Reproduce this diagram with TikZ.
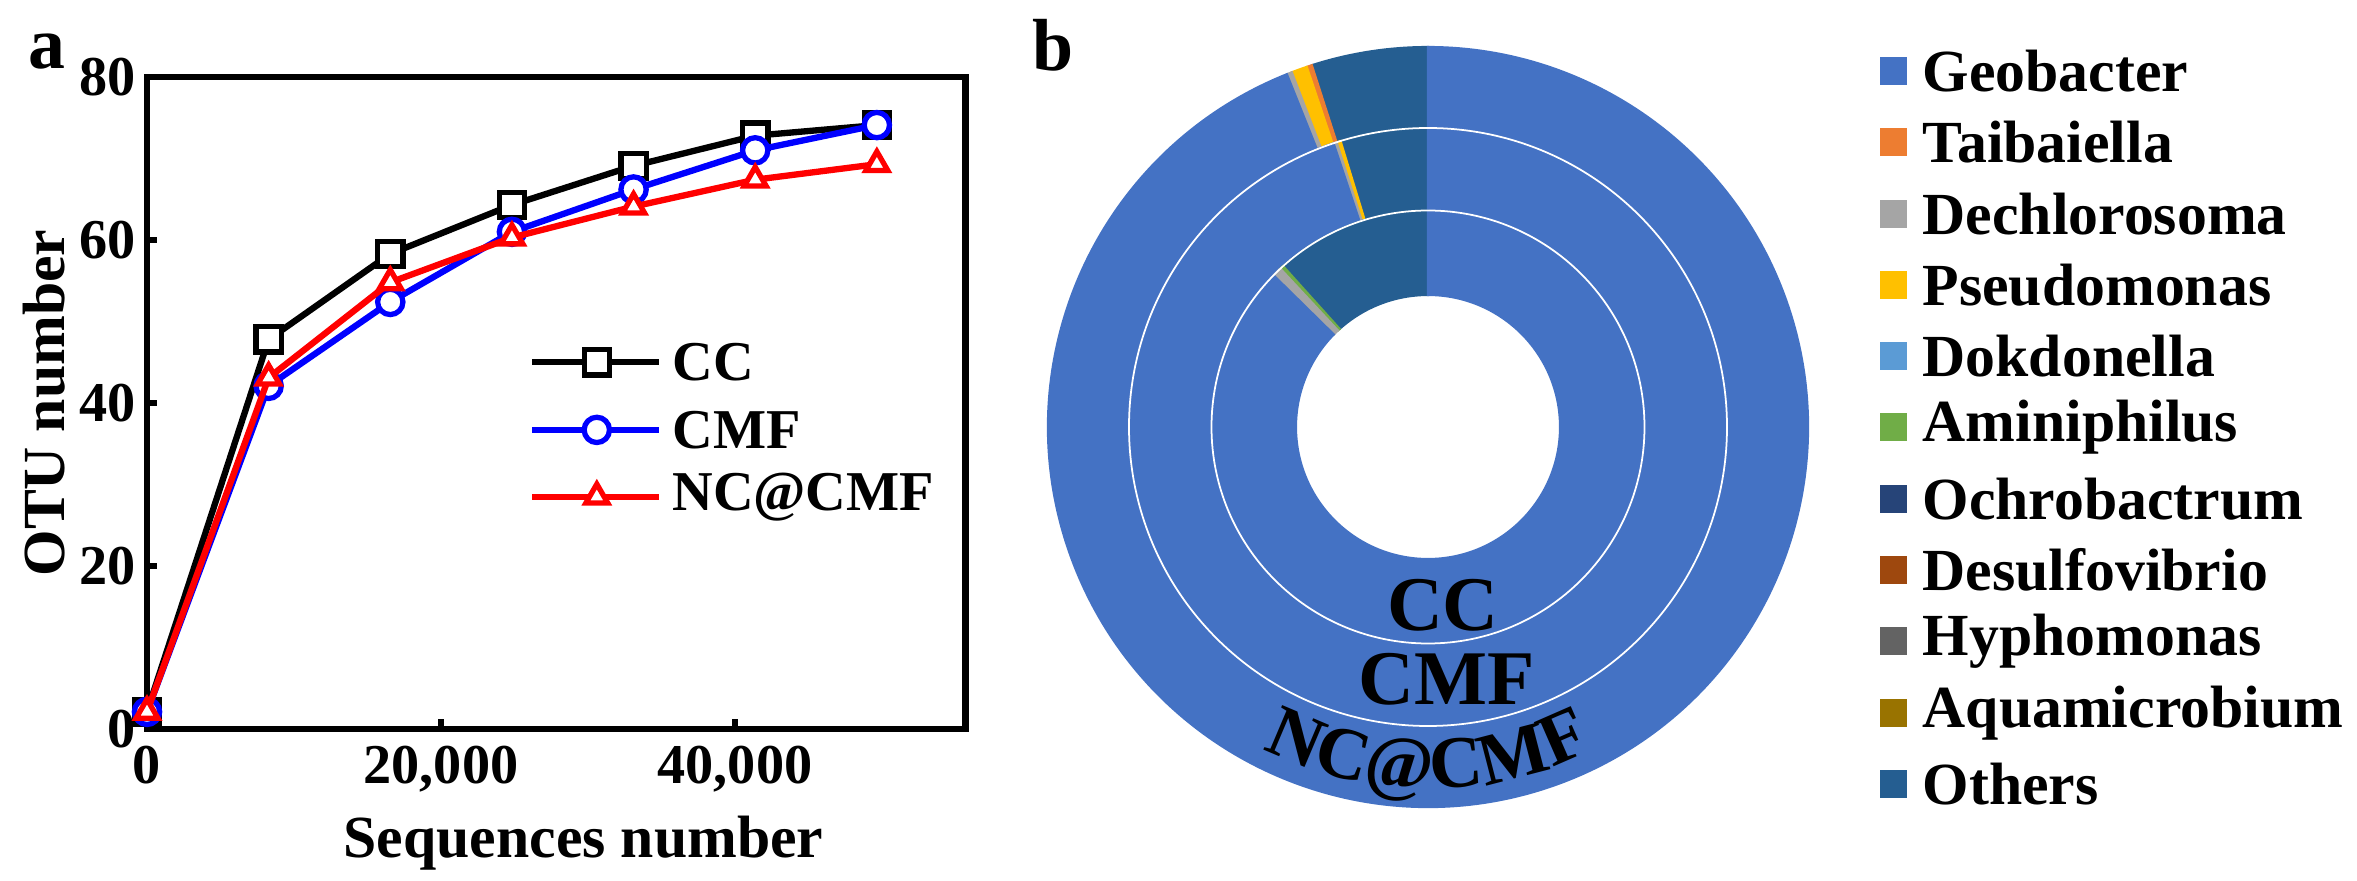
\documentclass[tikz,border=0pt]{standalone}
\usepackage{fontspec}
\setmainfont{Liberation Serif}
\usetikzlibrary{plotmarks,decorations.text}

\definecolor{geob}{HTML}{4472C4}
\definecolor{taib}{HTML}{ED7D31}
\definecolor{dech}{HTML}{A5A5A5}
\definecolor{pseu}{HTML}{FFC000}
\definecolor{dokd}{HTML}{5B9BD5}
\definecolor{amin}{HTML}{70AD47}
\definecolor{ochr}{HTML}{264478}
\definecolor{desu}{HTML}{9E480E}
\definecolor{hyph}{HTML}{636363}
\definecolor{aqua}{HTML}{997300}
\definecolor{othr}{HTML}{255E91}

\tikzset{
  lbl/.style={font=\fontsize{16}{18}\selectfont\bfseries, inner sep=0pt},
  curve/.style={line width=1.8pt, mark size=3.6pt, mark options={fill=white, solid, line width=1.5pt}},
  slice/.style={draw=white, line width=0.6pt},
  key/.style={minimum width=0.27cm, minimum height=0.28cm, inner sep=0pt},
  ringtxt/.style={font=\fontsize{22}{24}\selectfont\bfseries},
}
\newcommand{\ring}[5]{% r1, r2, a1, a2, colour
  \fill[slice, #5] (#3:#1) arc[start angle=#3, end angle=#4, radius=#1] -- (#4:#2) arc[start angle=#4, end angle=#3, radius=#2] -- cycle;}

\begin{document}
\begin{tikzpicture}
	\useasboundingbox (0,0) rectangle (23.57,-8.81);

	% panel a
	\node[lbl, font=\fontsize{21}{23}\selectfont\bfseries] (la) at (0.47,-0.52) {a};
	\begin{scope}[shift={(1.47,-7.29)}, x=1.47cm, y=0.815cm]
		\draw[line width=1.9pt] (0,0) rectangle (5.57,8);
		\foreach \v in {2,4,6} \draw[line width=1.5pt] (0,\v) -- (0.07,\v);
		\foreach \v in {2,4} \draw[line width=1.5pt] (\v,0) -- (\v,0.12);
		\foreach \v/\t in {0/0,2/20,4/40,6/60,8/80}
			\node[lbl, left] (yt\t) at (-0.07,\v) {\t};
		\foreach \v/\t in {0/0,2/{20,000},4/{40,000}}
			\node[lbl, below] (xt\v) at (\v,-0.2) {\t};
		\node[lbl, font=\fontsize{17}{19}\selectfont\bfseries, rotate=90] (ylab) at (-0.70,4) {OTU number};
		\node[lbl, font=\fontsize{17}{19}\selectfont\bfseries] (xlab) at (2.97,-1.4) {Sequences number};

		\draw[curve, black, mark=square*] plot coordinates {(0,0.21) (0.8275,4.78) (1.655,5.83) (2.4825,6.43) (3.31,6.91) (4.1375,7.28) (4.965,7.41)};
		\draw[curve, blue, mark=*] plot coordinates {(0,0.21) (0.8275,4.21) (1.655,5.24) (2.4825,6.1) (3.31,6.62) (4.1375,7.1) (4.965,7.41)};
		\draw[curve, red, mark=triangle*] plot coordinates {(0,0.21) (0.8275,4.31) (1.655,5.48) (2.4825,6.03) (3.31,6.41) (4.1375,6.74) (4.965,6.93)};

		% legend
		\foreach \c/\m/\t/\y in {black/square*/CC/4.50, blue/*/CMF/3.67, red/triangle*/NC@CMF/2.85} {
			\coordinate (l\t) at (2.62,\y);
			\coordinate (r\t) at (3.48,\y);
			\draw[curve, \c] (l\t) -- (r\t);
			\draw[curve, \c] plot[mark=\m] coordinates {(3.06,\y)};
			\node[lbl, font=\fontsize{16}{18}\selectfont\bfseries, right] (k\t) at (3.57,\y) {\t};
		}
	\end{scope}

	% panel b
	\node[lbl, font=\fontsize{21}{23}\selectfont\bfseries] (lb) at (10.53,-0.45) {b};
	\begin{scope}[shift={(14.28,-4.27)}]
		% NC@CMF
		\ring{3.80}{2.99}{90}{107.8}{othr}
		\ring{3.80}{2.99}{107.8}{108.6}{taib}
		\ring{3.80}{2.99}{108.6}{111}{pseu}
		\ring{3.80}{2.99}{111}{111.8}{dech}
		\ring{3.80}{2.99}{111.8}{450}{geob}
		% CMF
		\ring{2.99}{2.165}{90}{107}{othr}
		\ring{2.99}{2.165}{107}{107.8}{pseu}
		\ring{2.99}{2.165}{107.8}{108.4}{dech}
		\ring{2.99}{2.165}{108.4}{450}{geob}
		% CC
		\ring{2.165}{1.32}{90}{132}{othr}
		\ring{2.165}{1.32}{132}{133}{amin}
		\ring{2.165}{1.32}{133}{135.5}{dech}
		\ring{2.165}{1.32}{135.5}{450}{geob}
		\draw[white, line width=0.5pt] (0,0) circle[radius=2.165] (0,0) circle[radius=2.99];

		\node[ringtxt] (tcc) at (0.15,-1.78) {CC};
		\node[ringtxt] (tcmf) at (0.19,-2.52) {CMF};
		\path[decorate, decoration={text along path, text align=center,
			text={|\fontsize{21}{23}\selectfont\bfseries|NC@CMF}}]
			(240:3.62) arc[start angle=240, end angle=300, radius=3.62];
	\end{scope}

	% legend b
	\foreach \c/\t [count=\i from 0] in {geob/Geobacter, taib/Taibaiella, dech/Dechlorosoma, pseu/Pseudomonas, dokd/Dokdonella, amin/Aminiphilus, ochr/Ochrobactrum, desu/Desulfovibrio, hyph/Hyphomonas, aqua/Aquamicrobium, othr/Others} {
		\node[key, fill=\c] (sq\i) at (18.93,-0.71-0.713*\i) {};
		\node[lbl, right, font=\fontsize{17}{19}\selectfont\bfseries] (n\i) at (19.22,-0.71-0.713*\i) {\t};
	}
\end{tikzpicture}
\end{document}
